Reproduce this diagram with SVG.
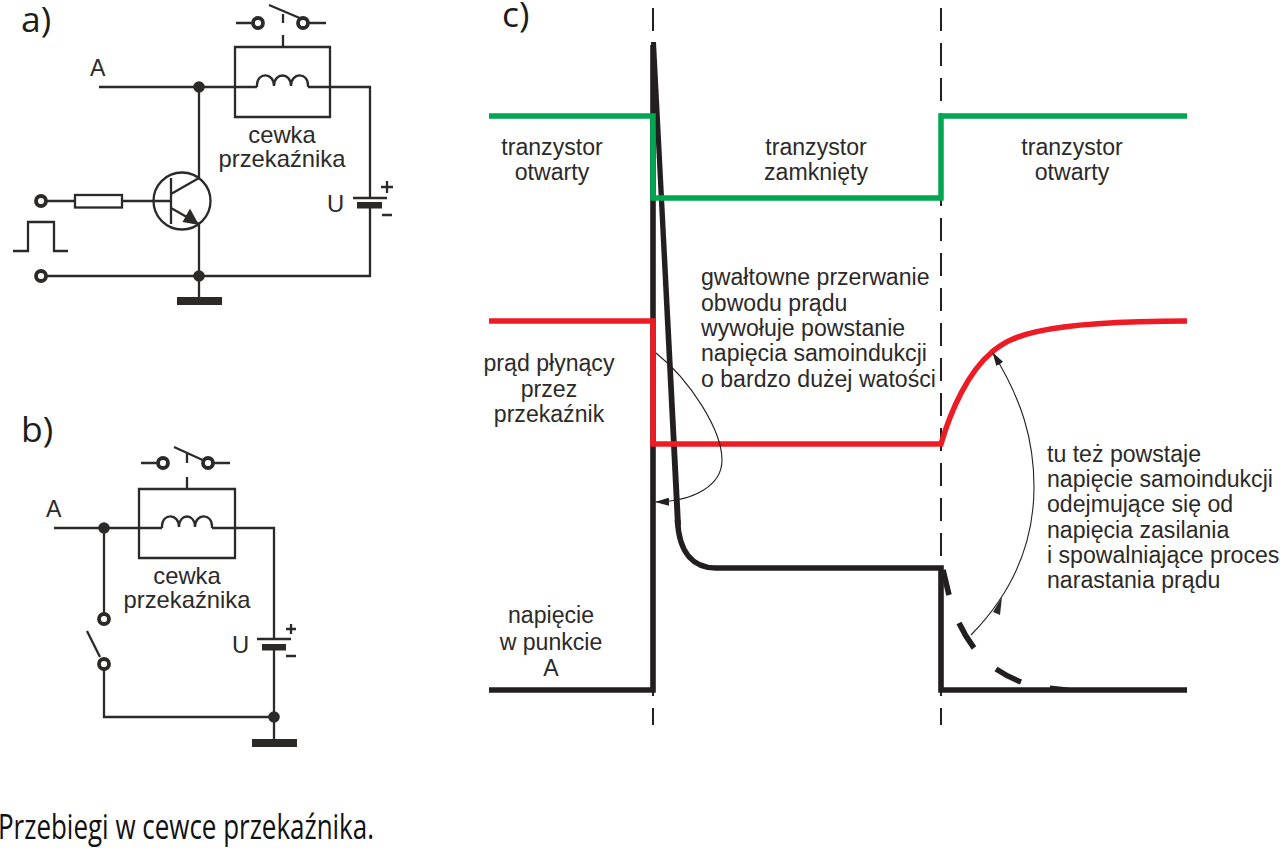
<svg xmlns="http://www.w3.org/2000/svg" width="1280" height="848" viewBox="0 0 1280 848">
<style>
text{font-family:"Liberation Sans",Arial,sans-serif;fill:#2b2a29;font-size:23.1px}
.m{text-anchor:middle}
.c{font-size:23.8px}
.h{font-family:"Open Sans","Noto Sans",sans-serif;font-size:35.5px;fill:#1d1d1b}
.w{fill:none;stroke:#2b2a29;stroke-width:2.3}
.o{fill:#fff;stroke:#2b2a29;stroke-width:3.8}
.d{fill:#2b2a29}
.k{fill:none;stroke:#231f20;stroke-width:5.6}
.t{fill:none;stroke:#231f20;stroke-width:1.1}
</style>
<defs>
<marker id="ah" markerWidth="14" markerHeight="8" refX="13" refY="4" orient="auto" markerUnits="userSpaceOnUse"><path d="M0 0L14 4L0 8z" fill="#231f20"/></marker>
</defs>
<rect width="1280" height="848" fill="#fff"/>
<text class="h" x="21" y="32">a)</text>
<text class="h" x="21" y="442">b)</text>
<text class="h" x="502" y="27">c)</text>
<g id="connectors">
<path class="w" d="M99 87H257M308 87H370V198M370 208V276H47M199 87V178M199 224V297M47 201H75M122 201H171"/>
<path class="w" d="M54 528H162M212 528H274V639M274 650V739M104 528V613M104 670V717H274M87 631L100 657"/>
</g>
<g id="circuit-a-relay">
<path class="w" d="M235 47H330V117H235ZM283 47V35M283 23V14M269 5L302 19M236 23H252M309 23H326"/>
<path class="w" d="M257 87V85C257 72 274 72 274 86C274 72 291 72 291 86C291 72 308 72 308 85V87"/>
<circle class="o" cx="258" cy="23" r="5"/><circle class="o" cx="303" cy="23" r="5"/>
<text class="m c" x="282" y="143">cewka</text><text class="m c" x="282" y="167">przekaźnika</text>
<text x="90" y="76">A</text>
</g>
<g id="circuit-a-input">
<rect x="75" y="195" width="47" height="12.5" fill="#fff" stroke="#2b2a29" stroke-width="2.3"/>
<circle class="o" cx="41" cy="201" r="5"/><circle class="o" cx="41" cy="276" r="5"/>
<path class="w" d="M13 251H28V222H54V251H68"/>
</g>
<g id="circuit-a-transistor">
<circle class="w" cx="182" cy="201" r="28.5"/>
<path class="w" d="M171 178V224M171 194L199 178M171 208L199 224"/>
<path class="d" d="M199 225L190 208.500L182.500 222Z"/>
<circle class="d" cx="199" cy="87" r="5.800"/><circle class="d" cx="199" cy="276" r="5.800"/>
<rect class="d" x="177" y="297" width="45" height="8"/>
</g>
<g id="circuit-a-battery">
<path class="w" d="M353 198H387M387 181V193M381 187H393M382 215H392"/>
<rect class="d" x="357" y="202" width="25" height="6.500"/>
<text class="c" x="327" y="212">U</text>
</g>
<g id="circuit-b-relay">
<path class="w" d="M139 489H235V558H139ZM187 489V477M187 463V453M174 447L207 462M141 463H157M214 463H230"/>
<path class="w" d="M162 528V526C162 513 179 513 179 527C179 513 195 513 195 527C195 513 212 513 212 526V528"/>
<circle class="o" cx="163" cy="463" r="5"/><circle class="o" cx="208" cy="463" r="5"/>
<text class="m c" x="187" y="584">cewka</text><text class="m c" x="187" y="608">przekaźnika</text>
<text x="46" y="517">A</text>
</g>
<g id="circuit-b-switch">
<circle class="d" cx="104" cy="528" r="5.800"/>
<circle class="o" cx="104" cy="619" r="5"/><circle class="o" cx="104" cy="664" r="5"/>
</g>
<g id="circuit-b-battery">
<path class="w" d="M257 639H291M291 624V634M286 629H296M286 656H296"/>
<rect class="d" x="262" y="644" width="24" height="6.500"/>
<text class="c" x="232" y="653">U</text>
<circle class="d" cx="274" cy="717" r="5.800"/>
<rect class="d" x="252" y="739" width="45" height="8"/>
</g>
<g id="waveforms">
<path d="M653 8V725M941 8V725" fill="none" stroke="#231f20" stroke-width="2" stroke-dasharray="23 12"/>
<path class="k" d="M489 690H653V45"/>
<path d="M651 42L656 42L681 525L675 525Z" fill="#231f20"/>
<path class="k" d="M677.500 520C679 555 695 568 716 568H941V690H1187"/>
<path class="k" d="M943 570L949 595M959 623Q965 636 974 648M996 669Q1008 677 1021 682"/>
<path d="M1050 687Q1062 688 1073 690" fill="none" stroke="#231f20" stroke-width="3"/>
<path fill="none" stroke="#00a651" stroke-width="5.500" d="M489 116H653V198H941V116H1187"/>
<path fill="none" stroke="#ed1c24" stroke-width="5.500" d="M489 321H653V444H941C951 410 968 372 992 352C1008 339 1030 321 1187 321"/>
<path class="t" marker-end="url(#ah)" d="M656 353C690 380 722 430 722 460C722 485 695 501 656 502"/>
<path class="t" marker-end="url(#ah)" d="M971 635C1015 590 1034 540 1034 487C1034 440 1022 400 993 353"/>
<path class="d" d="M1002 597L993 612L1000 615Z"/>
</g>
<g id="labels">
<text class="m" x="552" y="155">tranzystor</text><text class="m" x="552" y="180">otwarty</text>
<text class="m" x="816" y="155">tranzystor</text><text class="m" x="816" y="180">zamknięty</text>
<text class="m" x="1072" y="155">tranzystor</text><text class="m" x="1072" y="180">otwarty</text>
<text x="701" y="285">gwałtowne przerwanie</text><text x="701" y="311">obwodu prądu</text><text x="701" y="336">wywołuje powstanie</text><text x="701" y="361">napięcia samoindukcji</text><text x="701" y="387">o bardzo dużej watości</text>
<text class="m" x="549" y="371">prąd płynący</text><text class="m" x="549" y="397">przez</text><text class="m" x="549" y="422">przekaźnik</text>
<text class="m" x="551" y="623">napięcie</text><text class="m" x="551" y="650">w punkcie</text><text class="m" x="551" y="676">A</text>
<text x="1047" y="462">tu też powstaje</text><text x="1047" y="487">napięcie samoindukcji</text><text x="1047" y="512">odejmujące się od</text><text x="1047" y="538">napięcia zasilania</text><text x="1047" y="563">i spowalniające proces</text><text x="1047" y="588">narastania prądu</text>
<text x="-2" y="839" style="font-family:'Open Sans','Noto Sans',sans-serif;font-size:35px;fill:#111" textLength="376" lengthAdjust="spacingAndGlyphs">Przebiegi w cewce przekaźnika.</text>
</g>
</svg>
